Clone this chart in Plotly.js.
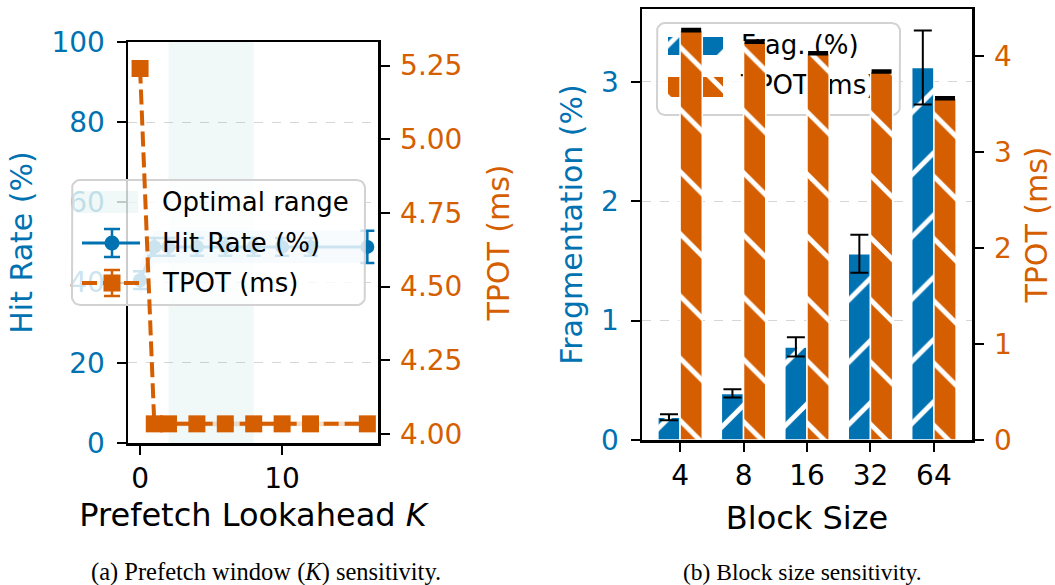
<!DOCTYPE html>
<html>
<head>
<meta charset="utf-8">
<script src="https://cdn.plot.ly/plotly-3.0.1.min.js"></script>
<style>html,body{margin:0;padding:0;background:#fff}#chart{width:1055px;height:585px}</style>
</head>
<body>
<div id="chart"></div>
<script>
// ---------------- data: (a) prefetch window sensitivity ----------------
const kValues      = [0, 1, 2, 4, 6, 8, 10, 12, 16];
const hitRate      = [40.6, 48.9, 48.9, 48.9, 48.9, 48.9, 48.9, 48.9, 48.9];
const hitRateErr   = [2.2, 2.2, 2.2, 2.2, 2.2, 2.2, 2.2, 2.2, 4.0];
const hitRateBand  = [4, 4, 4, 4, 4, 4, 4, 4, 4];
const tpotByK      = [5.24, 4.034, 4.034, 4.034, 4.034, 4.034, 4.034, 4.034, 4.034];
const tpotByKErr   = [0.005, 0.005, 0.005, 0.005, 0.005, 0.005, 0.005, 0.005, 0.005];
const tpotByKBand  = [0.008, 0.008, 0.008, 0.008, 0.008, 0.008, 0.008, 0.008, 0.008];
const optimalRange = [2, 8];
const kTicks       = [0, 10];
const tpotKTicks   = [4.00, 4.25, 4.50, 4.75, 5.00, 5.25];

// ---------------- data: (b) block size sensitivity ----------------
const blockSizes     = ['4', '8', '16', '32', '64'];
const fragPct        = [0.19, 0.39, 0.78, 1.56, 3.12];
const fragErr        = [0.025, 0.035, 0.08, 0.16, 0.31];
const tpotByBlock    = [4.27, 4.15, 4.03, 3.84, 3.56];
const tpotByBlockErr = [0.008, 0.008, 0.008, 0.008, 0.008];

// ---------------- style / geometry ----------------
const W = 1055, H = 585;
const BLUE = '#0072B2', ORANGE = '#D55E00';
const FONT = 'DejaVu Sans, Verdana, sans-serif';
const SERIF = 'Liberation Serif, Times New Roman, serif';
const PA = {x0: 128, x1: 378, y0: 42, y1: 443};
const PB = {x0: 642, x1: 972, y0: 9, y1: 440};
const domX = p => [p.x0 / W, p.x1 / W];
const domY = p => [1 - p.y1 / H, 1 - p.y0 / H];
const kRange = [-0.85, 16.75], hitRange = [0, 100], tpotKRange = [3.969, 5.33];
const blockRange = [-0.6, 4.6], fragRange = [0, 3.61], tpotBRange = [0, 4.49];
const blockPos = blockSizes.map((_, i) => i);
const BARW = 0.35;

// pixel -> data of panel (b) primary axes (for the legend drawn beneath the bars)
const bx = p => blockRange[0] + (p - PB.x0) / (PB.x1 - PB.x0) * (blockRange[1] - blockRange[0]);
const by = p => fragRange[0] + (PB.y1 - p) / (PB.y1 - PB.y0) * (fragRange[1] - fragRange[0]);

function roundRect(x0, y0, x1, y1, r, n) {
  n = n || 6;
  const xs = [], ys = [];
  const c = [[x1 - r, y0 + r, -90, 0], [x1 - r, y1 - r, 0, 90], [x0 + r, y1 - r, 90, 180], [x0 + r, y0 + r, 180, 270]];
  for (const [cx, cy, a0, a1] of c) {
    for (let i = 0; i <= n; i++) {
      const a = (a0 + (a1 - a0) * i / n) * Math.PI / 180;
      xs.push(cx + r * Math.cos(a)); ys.push(cy + r * Math.sin(a));
    }
  }
  xs.push(xs[0]); ys.push(ys[0]);
  return {xs, ys};
}
const rectPts = (x0, y0, x1, y1) => ({xs: [x0, x1, x1, x0, x0], ys: [y0, y0, y1, y1, y0]});

const HATCH = {size: 44, solidity: 0.11};

const traces = [];
// ===== panel (a): hit rate (x / y)
traces.push({x: [optimalRange[0], optimalRange[1], optimalRange[1], optimalRange[0], optimalRange[0]],
  y: [hitRange[0], hitRange[0], hitRange[1], hitRange[1], hitRange[0]], xaxis: 'x', yaxis: 'y',
  type: 'scatter', mode: 'lines', fill: 'toself', fillcolor: 'rgba(0,158,115,0.06)', line: {width: 0}, name: 'Optimal range'});
traces.push({x: kValues, y: hitRate.map((v, i) => v - hitRateBand[i]), xaxis: 'x', yaxis: 'y',
  type: 'scatter', mode: 'lines', line: {width: 0, color: BLUE}, name: 'hit-lo'});
traces.push({x: kValues, y: hitRate.map((v, i) => v + hitRateBand[i]), xaxis: 'x', yaxis: 'y',
  type: 'scatter', mode: 'lines', line: {width: 0, color: BLUE}, fill: 'tonexty', fillcolor: 'rgba(0,114,178,0.15)', name: 'hit-hi'});
traces.push({x: kValues, y: hitRate, xaxis: 'x', yaxis: 'y', type: 'scatter', mode: 'lines+markers', name: 'Hit Rate (%)',
  line: {color: BLUE, width: 3}, marker: {color: BLUE, size: 14, symbol: 'circle'},
  error_y: {type: 'data', array: hitRateErr, color: BLUE, thickness: 2.5, width: 7}});
// ===== panel (a): TPOT (x4 / y6)
traces.push({x: kValues, y: tpotByK.map((v, i) => v - tpotByKBand[i]), xaxis: 'x4', yaxis: 'y6',
  type: 'scatter', mode: 'lines', line: {width: 0, color: ORANGE}, name: 'tpot-lo'});
traces.push({x: kValues, y: tpotByK.map((v, i) => v + tpotByKBand[i]), xaxis: 'x4', yaxis: 'y6',
  type: 'scatter', mode: 'lines', line: {width: 0, color: ORANGE}, fill: 'tonexty', fillcolor: 'rgba(213,94,0,0.2)', name: 'tpot-hi'});
traces.push({x: kValues, y: tpotByK, xaxis: 'x4', yaxis: 'y6', type: 'scatter', mode: 'lines+markers', name: 'TPOT (ms)',
  line: {color: ORANGE, width: 4, dash: '15px,6px'}, marker: {color: ORANGE, size: 17, symbol: 'square'},
  error_y: {type: 'data', array: tpotByKErr, color: ORANGE, thickness: 2.5, width: 7}});

// ===== panel (b): legend drawn under the bars (x2 / y3)
const lbB = roundRect(657, 23, 900, 115, 8);
traces.push({x: lbB.xs.map(bx), y: lbB.ys.map(by), xaxis: 'x2', yaxis: 'y3', type: 'scatter', mode: 'lines',
  fill: 'toself', fillcolor: 'rgba(255,255,255,0.8)', line: {color: '#d2d2d2', width: 2}, name: 'legend-box-b'});
const pBlue = rectPts(668, 37, 723, 55), pOr = rectPts(668, 77, 723, 97);
traces.push({x: pBlue.xs.map(bx), y: pBlue.ys.map(by), xaxis: 'x2', yaxis: 'y3', type: 'scatter', mode: 'lines',
  fill: 'toself', fillcolor: BLUE, line: {width: 0},
  fillpattern: Object.assign({shape: '/', fgcolor: 'white', bgcolor: BLUE}, HATCH), name: 'patch-frag'});
traces.push({x: pOr.xs.map(bx), y: pOr.ys.map(by), xaxis: 'x2', yaxis: 'y3', type: 'scatter', mode: 'lines',
  fill: 'toself', fillcolor: ORANGE, line: {width: 0},
  fillpattern: Object.assign({shape: '\\', fgcolor: 'white', bgcolor: ORANGE}, HATCH), name: 'patch-tpot'});
traces.push({x: [bx(741), bx(741)], y: [by(47), by(87)], xaxis: 'x2', yaxis: 'y3', type: 'scatter', mode: 'text',
  text: ['Frag. (%)', 'TPOT (ms)'], textposition: 'middle right', cliponaxis: false,
  textfont: {family: FONT, size: 26, color: 'black'}, name: 'legend-text-b'});
// ===== panel (b): bars
traces.push({x: blockPos, y: fragPct, xaxis: 'x2', yaxis: 'y3', type: 'bar', name: 'Frag. (%)',
  offset: -BARW, width: BARW,
  marker: {color: BLUE, line: {color: 'white', width: 1.5},
    pattern: Object.assign({shape: '/', fgcolor: 'white', bgcolor: BLUE}, HATCH)},
  error_y: {type: 'data', array: fragErr, color: 'black', thickness: 2, width: 9}});
traces.push({x: blockPos, y: tpotByBlock, xaxis: 'x2', yaxis: 'y4', type: 'bar', name: 'TPOT (ms)',
  offset: 0, width: BARW,
  marker: {color: ORANGE, line: {color: 'white', width: 1.5},
    pattern: Object.assign({shape: '\\', fgcolor: 'white', bgcolor: ORANGE}, HATCH)},
  error_y: {type: 'data', array: tpotByBlockErr, color: 'black', thickness: 3, width: 10}});

// ===== panel (a) legend: pixel-space overlay (x3 / y5), drawn above hit-rate series, below TPOT
const lbA = roundRect(72, 180, 365, 305, 8);
traces.push({x: lbA.xs, y: lbA.ys, xaxis: 'x3', yaxis: 'y5', type: 'scatter', mode: 'lines',
  fill: 'toself', fillcolor: 'rgba(255,255,255,0.8)', line: {color: '#d2d2d2', width: 2}, name: 'legend-box-a'});
const pG = rectPts(76, 191, 138, 213);
traces.push({x: pG.xs, y: pG.ys, xaxis: 'x3', yaxis: 'y5', type: 'scatter', mode: 'lines',
  fill: 'toself', fillcolor: 'rgba(0,158,115,0.06)', line: {width: 0}, name: 'patch-opt'});
traces.push({x: [82, 140], y: [243, 243], xaxis: 'x3', yaxis: 'y5', type: 'scatter', mode: 'lines',
  line: {color: BLUE, width: 3}, name: 'h-hit'});
traces.push({x: [112], y: [243], xaxis: 'x3', yaxis: 'y5', type: 'scatter', mode: 'markers',
  marker: {color: BLUE, size: 15}, error_y: {type: 'data', array: [14], color: BLUE, thickness: 2.5, width: 8}, name: 'h-hit-m'});
traces.push({x: [82, 140], y: [283, 283], xaxis: 'x3', yaxis: 'y5', type: 'scatter', mode: 'lines',
  line: {color: ORANGE, width: 4, dash: '15px,6px'}, name: 'h-tpot'});
traces.push({x: [112], y: [283], xaxis: 'x3', yaxis: 'y5', type: 'scatter', mode: 'markers',
  marker: {color: ORANGE, size: 17, symbol: 'square'}, error_y: {type: 'data', array: [13], color: ORANGE, thickness: 2.5, width: 8}, name: 'h-tpot-m'});

const tickBase = {ticks: 'outside', ticklen: 9, tickwidth: 2, tickcolor: 'black', showline: true, linecolor: 'black',
  linewidth: 2.5, zeroline: false, showgrid: false, tickfont: {family: FONT, size: 28, color: 'black'}, fixedrange: true};
const gridBase = {showgrid: true, gridcolor: '#d6d6d6', gridwidth: 1, griddash: 'dash'};
const hidden = {visible: false, fixedrange: true, showgrid: false, zeroline: false};

const layout = {
  width: W, height: H, margin: {l: 0, r: 0, t: 0, b: 0},
  paper_bgcolor: 'white', plot_bgcolor: 'rgba(0,0,0,0)',
  showlegend: false, hovermode: false,
  font: {family: FONT, size: 28, color: 'black'},
  xaxis: Object.assign({}, tickBase, {domain: domX(PA), anchor: 'y', range: kRange, tickvals: kTicks, mirror: true,
    title: {text: 'Prefetch Lookahead <i>K</i>', font: {family: FONT, size: 32, color: 'black'}, standoff: 10}}),
  yaxis: Object.assign({}, tickBase, gridBase, {domain: domY(PA), anchor: 'x', range: hitRange, dtick: 20, mirror: true,
    ticklabelstandoff: 6, tickfont: {family: FONT, size: 28, color: BLUE},
    title: {text: 'Hit Rate (%)', font: {family: FONT, size: 30, color: BLUE}, standoff: 10}}),
  xaxis4: Object.assign({}, hidden, {domain: domX(PA), anchor: 'y6', range: kRange}),
  yaxis6: Object.assign({}, tickBase, {domain: domY(PA), anchor: 'x4', side: 'right', range: tpotKRange,
    ticklabelstandoff: 5, tickvals: tpotKTicks, tickformat: '.2f', tickfont: {family: FONT, size: 28, color: ORANGE},
    title: {text: 'TPOT (ms)', font: {family: FONT, size: 30, color: ORANGE}, standoff: 27}}),
  xaxis2: Object.assign({}, tickBase, {domain: domX(PB), anchor: 'y3', range: blockRange, tickvals: blockPos,
    ticktext: blockSizes, mirror: true,
    title: {text: 'Block Size', font: {family: FONT, size: 32, color: 'black'}, standoff: 16}}),
  yaxis3: Object.assign({}, tickBase, gridBase, {domain: domY(PB), anchor: 'x2', range: fragRange, dtick: 1, mirror: true,
    ticklabelstandoff: 6, tickfont: {family: FONT, size: 28, color: BLUE},
    title: {text: 'Fragmentation (%)', font: {family: FONT, size: 30, color: BLUE}, standoff: 10}}),
  yaxis4: Object.assign({}, tickBase, {overlaying: 'y3', anchor: 'x2', side: 'right', range: tpotBRange, dtick: 1,
    ticklabelstandoff: 5, tickfont: {family: FONT, size: 28, color: ORANGE},
    title: {text: 'TPOT (ms)', font: {family: FONT, size: 30, color: ORANGE}, standoff: 15}}),
  xaxis3: Object.assign({}, hidden, {domain: [0, 1], anchor: 'y5', range: [0, W]}),
  yaxis5: Object.assign({}, hidden, {domain: [0, 1], anchor: 'x3', range: [H, 0]}),
  annotations: [
    {xref: 'paper', yref: 'paper', x: 160 / W, y: 1 - 202 / H, xanchor: 'left', yanchor: 'middle', showarrow: false,
      text: 'Optimal range', font: {family: FONT, size: 26, color: 'black'}},
    {xref: 'paper', yref: 'paper', x: 160 / W, y: 1 - 243 / H, xanchor: 'left', yanchor: 'middle', showarrow: false,
      text: 'Hit Rate (%)', font: {family: FONT, size: 26, color: 'black'}},
    {xref: 'paper', yref: 'paper', x: 160 / W, y: 1 - 283 / H, xanchor: 'left', yanchor: 'middle', showarrow: false,
      text: 'TPOT (ms)', font: {family: FONT, size: 26, color: 'black'}},
    {xref: 'paper', yref: 'paper', x: 266 / W, y: 1 - 572 / H, xanchor: 'center', yanchor: 'middle', showarrow: false,
      text: '(a) Prefetch window (<i>K</i>) sensitivity.', font: {family: SERIF, size: 24.5, color: 'black'}},
    {xref: 'paper', yref: 'paper', x: 802 / W, y: 1 - 572 / H, xanchor: 'center', yanchor: 'middle', showarrow: false,
      text: '(b) Block size sensitivity.', font: {family: SERIF, size: 23.5, color: 'black'}}
  ]
};

Plotly.newPlot('chart', traces, layout, {staticPlot: true, displayModeBar: false});
</script>
</body>
</html>
